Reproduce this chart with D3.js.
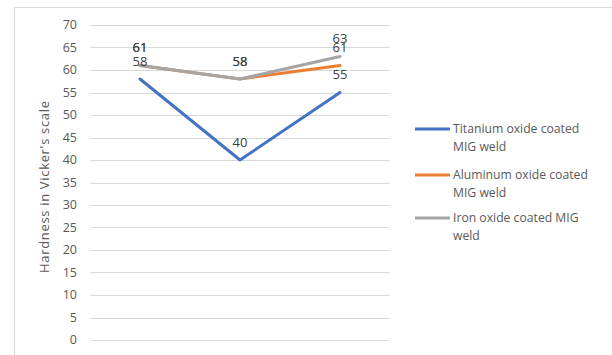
<!DOCTYPE html>
<html lang="en">
<head>
  <meta charset="UTF-8" />
  <title>Hardness chart</title>
  <script src="https://d3js.org/d3.v7.min.js"></script>
  <style>
    body { margin: 0; background: #fff; font-family: "Open Sans", "Liberation Sans", Arial, sans-serif; }
    svg { display: block; }
  </style>
</head>
<body>
  <div id="chart"></div>
  <script>
    // ---------- data ----------
    const categories = ["1", "2", "3"];
    const titanium = [58, 40, 55];
    const aluminum = [61, 58, 61];
    const iron = [61, 58, 63];
    const seriesNames = ["Titanium oxide coated MIG weld", "Aluminum oxide coated MIG weld", "Iron oxide coated MIG weld"];
    const yTicks = [0, 5, 10, 15, 20, 25, 30, 35, 40, 45, 50, 55, 60, 65, 70];

    const series = [
      { name: seriesNames[0], values: titanium, color: "#4472C4", legend: ["Titanium oxide coated", "MIG weld"] },
      { name: seriesNames[1], values: aluminum, color: "#ED7D31", legend: ["Aluminum oxide coated", "MIG weld"] },
      { name: seriesNames[2], values: iron, color: "#A5A5A5", legend: ["Iron oxide coated MIG", "weld"] }
    ];

    const width = 612, height = 355;
    const svg = d3.select("#chart").append("svg").attr("width", width).attr("height", height);

    // chart area border
    svg.append("rect")
      .attr("x", 14.5).attr("y", 7.5)
      .attr("width", 640).attr("height", 400)
      .attr("fill", "#fff").attr("stroke", "#d9d9d9");

    const x = d3.scalePoint().domain(categories).range([90, 390]).padding(0.5);
    const y = d3.scaleLinear().domain([0, 70]).range([340, 25]);

    // gridlines
    svg.append("g").selectAll("line")
      .data(yTicks)
      .join("line")
      .attr("x1", 90).attr("x2", 390)
      .attr("y1", d => Math.round(y(d)) + 0.5).attr("y2", d => Math.round(y(d)) + 0.5)
      .attr("stroke", "#d9d9d9").attr("stroke-width", 1);

    // y tick labels
    svg.append("g").selectAll("text")
      .data(yTicks)
      .join("text")
      .attr("x", 77).attr("y", d => y(d))
      .attr("dy", "0.35em")
      .attr("text-anchor", "end")
      .attr("font-size", 12.5)
      .attr("fill", "#595959")
      .text(d => d);

    // y axis title
    svg.append("text")
      .attr("transform", `translate(49, ${y(34)}) rotate(-90)`)
      .attr("text-anchor", "middle")
      .attr("font-size", 13)
      .attr("textLength", 172)
      .attr("fill", "#595959")
      .text("Hardness in Vicker's scale");

    const line = d3.line()
      .x((d, i) => x(categories[i]))
      .y(d => y(d));

    series.forEach(s => {
      svg.append("path")
        .datum(s.values)
        .attr("d", line)
        .attr("fill", "none")
        .attr("stroke", s.color)
        .attr("stroke-width", 3)
        .attr("stroke-linejoin", "round")
        .attr("stroke-linecap", "round");
    });

    // data labels above points
    series.forEach(s => {
      svg.append("g").selectAll("text")
        .data(s.values)
        .join("text")
        .attr("x", (d, i) => x(categories[i]))
        .attr("y", d => y(d) - 18)
        .attr("dy", "0.35em")
        .attr("text-anchor", "middle")
        .attr("font-size", 13)
        .attr("fill", "#404040")
        .text(d => d);
    });

    // legend
    const legendY = [129, 175, 218];
    series.forEach((s, i) => {
      const g = svg.append("g").attr("transform", `translate(415, ${legendY[i]})`);
      g.append("line")
        .attr("x1", 0).attr("x2", 35)
        .attr("y1", 0).attr("y2", 0)
        .attr("stroke", s.color).attr("stroke-width", 3);
      s.legend.forEach((t, j) => {
        g.append("text")
          .attr("x", 38).attr("y", j * 18)
          .attr("dy", "0.35em")
          .attr("font-size", 12.2)
          .attr("fill", "#595959")
          .text(t);
      });
    });
  </script>
</body>
</html>
